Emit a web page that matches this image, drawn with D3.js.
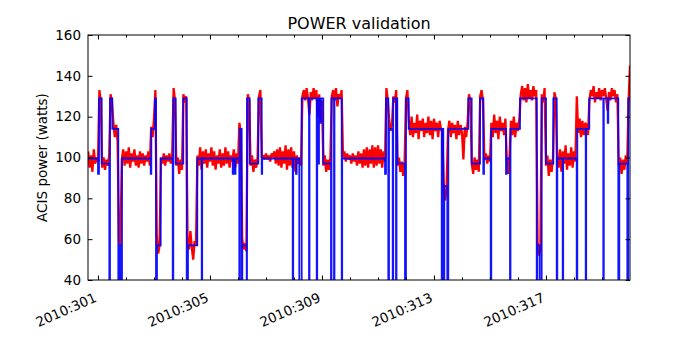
<!DOCTYPE html>
<html>
<head>
<meta charset="utf-8">
<script src="https://cdn.jsdelivr.net/npm/d3@7/dist/d3.min.js"></script>
<style>
  body { margin: 0; background: #fff; }
  svg { font-family: 'DejaVu Sans', sans-serif; }
</style>
</head>
<body>
<div id="chart"></div>
<script>
const TITLE = 'POWER validation';
const Y_LABEL = 'ACIS power (watts)';
const YEAR = 2010;
const X_DOMAIN = [300.643, 320.0];
const Y_DOMAIN = [40, 160];
const MAJOR_DAYS = [301, 305, 309, 313, 317];
const MINOR_DAYS = [301, 302, 303, 304, 305, 306, 307, 308, 309, 310, 311, 312, 313, 314, 315, 316, 317, 318, 319];
const Y_TICKS = [40, 60, 80, 100, 120, 140, 160];

// model power (blue), step changes: [day of year, watts]
const modelSteps = [
  [300.643, 99.5], [301.000, 92], [301.036, 129], [301.132, 97], [301.404, 0], [301.429, 129],
  [301.511, 114], [301.725, 0], [301.750, 57], [301.786, 0], [301.821, 57], [301.846, 0],
  [301.857, 99.5], [302.882, 92], [302.904, 114], [303.036, 129], [303.071, 0], [303.107, 57],
  [303.239, 99.5], [303.668, 0], [303.689, 129], [303.775, 97], [304.046, 129], [304.168, 0],
  [304.214, 57], [304.546, 99.5], [304.704, 0], [304.721, 99.5], [305.811, 92], [305.829, 99.5],
  [305.893, 92], [305.911, 99.5], [306.046, 0], [306.064, 114], [306.132, 0], [306.154, 57],
  [306.311, 0], [306.321, 129], [306.418, 97], [306.725, 129], [306.846, 92], [306.864, 99.5],
  [307.954, 0], [307.971, 99.5], [308.071, 92], [308.096, 99.5], [308.189, 0], [308.275, 129],
  [308.536, 0], [308.554, 129], [308.811, 0], [308.829, 129], [308.868, 97], [308.893, 129],
  [308.946, 117], [308.964, 129], [309.046, 97], [309.321, 0], [309.339, 129], [309.429, 0],
  [309.446, 129], [309.704, 0], [309.721, 99.5], [311.250, 92], [311.286, 129], [311.368, 0],
  [311.393, 114], [311.525, 0], [311.543, 129], [311.643, 0], [311.661, 129], [311.689, 97],
  [311.964, 0], [312.000, 129], [312.096, 114], [313.275, 0], [313.296, 114], [313.332, 0],
  [313.368, 86], [313.475, 0], [313.511, 114], [314.225, 129], [314.346, 97], [314.643, 129],
  [314.761, 92], [314.786, 99.5], [315.025, 0], [315.046, 114], [315.571, 92], [315.596, 99.5],
  [315.714, 0], [315.732, 114], [316.071, 129], [316.668, 0], [316.689, 57], [316.775, 0],
  [316.846, 129], [317.000, 97], [317.261, 129], [317.382, 0], [317.404, 99.5], [317.596, 0],
  [317.614, 99.5], [318.096, 0], [318.118, 114], [318.418, 0], [318.436, 114], [318.546, 129],
  [319.046, 0], [319.064, 129], [319.204, 117], [319.225, 129], [319.582, 0], [319.618, 97],
  [319.904, 0], [319.939, 129], [320.000, 129]
];

// telemetry (red), runs of samples: [start day, [watts ...]] one every TELEM_STEP days
const TELEM_STEP = 0.05;
const telemetry = [
  [300.65, [103, 95, 101, 93, 104, 97, 100, 98]],
  [301.05, [133, 128, 95, 100, 94, 99, 96, 101, 131, 127, 117, 110, 116, 108, 61, 57]],
  [301.85, [99, 104, 96, 103, 97, 105, 95, 102, 98, 104, 96, 101, 95, 103, 97, 102, 96, 101, 98, 103, 96]],
  [302.90, [115, 110, 119, 133, 62, 53, 57]],
  [303.25, [100, 97, 102, 96, 101, 98, 102, 97, 101, 134, 128, 96, 100, 92, 99, 94, 131, 127, 130]],
  [304.20, [58, 55, 64, 56, 50, 59, 57]],
  [304.55, [101, 96, 105, 94, 103, 97, 104, 95, 102, 98, 105, 96, 103, 94, 101, 97, 104, 95, 102, 96,
            105, 97, 103, 95, 101, 98, 104, 95, 102, 97]],
  [306.05, [117, 112, 60, 55, 58, 54, 131, 128, 96, 101, 93, 99, 95, 100, 130, 133]],
  [306.85, [100, 101, 99, 102, 99, 101, 98, 102, 100, 103, 97, 104, 96, 105, 95, 103, 97, 106, 94, 104,
            96, 105, 95, 103, 93, 101, 97, 100, 96]],
  [308.30, [130, 133, 128, 134, 129, 121, 132, 128, 134, 129, 133, 120, 131, 118, 128]],
  [309.05, [96, 101, 93, 99, 94, 100, 130, 133, 128, 134, 125, 131, 129, 133]],
  [309.75, [100, 103, 98, 102, 99, 101, 97, 102, 98, 101, 96, 103, 97, 102, 95, 104, 96, 105, 95, 104,
            97, 106, 95, 105, 96, 106, 97, 104, 95, 103, 98]],
  [311.30, [134, 128, 118, 113, 116, 130, 127, 133, 96, 100, 93, 98, 91, 97, 129, 133]],
  [312.10, [118, 111, 120, 110, 117, 112, 121, 109, 118, 113, 119, 110, 117, 112, 120, 111, 118, 109, 119, 113,
            117, 110, 118, 114]],
  [313.30, [112, 87, 79, 85, 113]],
  [313.55, [118, 110, 117, 112, 116, 109, 118, 111, 116, 112, 99, 115, 110, 117, 131, 127, 97, 92, 100, 94,
            99, 93, 130, 133, 128, 99, 102, 97, 101, 98]],
  [315.05, [117, 110, 121, 112, 118, 109, 120, 113, 117, 111, 119, 99, 92, 101, 118, 111, 120, 110, 117, 113, 119]],
  [316.10, [131, 135, 128, 134, 127, 136, 129, 133, 128, 135, 130, 133, 58, 52, 56, 131, 127, 134]],
  [317.00, [96, 101, 91, 99, 93, 100, 132, 129]],
  [317.40, [100, 95, 104, 93, 103, 97, 106, 94, 102, 96, 105, 95, 103, 98]],
  [318.10, [130, 112, 119, 110, 118, 111, 117, 116, 111]],
  [318.55, [128, 133, 130, 135, 127, 132, 129, 134, 128, 133, 130, 134, 129, 123, 132, 128, 134, 130, 133, 127, 131]],
  [319.60, [96, 100, 92, 99, 94, 101, 97, 128, 145]]
];

const WIDTH = 700, HEIGHT = 350;
const margin = { top: 35, right: 70, bottom: 70, left: 88 };
const w = WIDTH - margin.left - margin.right;
const h = HEIGHT - margin.top - margin.bottom;

const svg = d3.select('#chart').append('svg')
  .attr('width', WIDTH)
  .attr('height', HEIGHT);

const g = svg.append('g')
  .attr('transform', `translate(${margin.left},${margin.top})`);

const x = d3.scaleLinear().domain(X_DOMAIN).range([0, w]);
const y = d3.scaleLinear().domain(Y_DOMAIN).range([h, 0]);

g.append('clipPath').attr('id', 'plot-clip')
  .append('rect').attr('width', w).attr('height', h);

// flatten telemetry runs
let telemPoints = [];
for (let [start, vals] of telemetry) {
  vals.forEach((v, i) => telemPoints.push([start + i * TELEM_STEP, v]));
}

const lines = g.append('g').attr('clip-path', 'url(#plot-clip)');

lines.append('path')
  .datum(telemPoints)
  .attr('d', d3.line().x(d => x(d[0])).y(d => y(d[1])))
  .attr('fill', 'none')
  .attr('stroke', '#ff0000')
  .attr('stroke-width', 2.3)
  .attr('stroke-linejoin', 'bevel');

lines.append('path')
  .datum(modelSteps)
  .attr('d', d3.line().x(d => x(d[0])).y(d => y(d[1])).curve(d3.curveStepAfter))
  .attr('fill', 'none')
  .attr('stroke', '#0000ff')
  .attr('stroke-opacity', 0.92)
  .attr('stroke-width', 1.8);

// axes, ticks point inward
let styleAxis = sel => {
  sel.select('.domain').remove();
  sel.selectAll('line').attr('stroke', '#000');
  sel.selectAll('text').attr('font-size', 13.5).attr('fill', '#000').attr('font-family', 'DejaVu Sans');
};

g.append('g')
  .attr('transform', `translate(0,${h})`)
  .call(d3.axisBottom(x).tickValues(MINOR_DAYS).tickSizeInner(-2.5).tickSizeOuter(0).tickFormat(''))
  .call(styleAxis);
g.append('g')
  .call(d3.axisTop(x).tickValues(MINOR_DAYS).tickSizeInner(-2.5).tickSizeOuter(0).tickFormat(''))
  .call(styleAxis);
g.append('g')
  .call(d3.axisTop(x).tickValues(MAJOR_DAYS).tickSizeInner(-4.5).tickSizeOuter(0).tickFormat(''))
  .call(styleAxis);

let xAxis = g.append('g')
  .attr('transform', `translate(0,${h})`)
  .call(d3.axisBottom(x).tickValues(MAJOR_DAYS).tickSizeInner(-4.5).tickSizeOuter(0)
    .tickFormat(d => `${YEAR}:${d}`))
  .call(styleAxis);
xAxis.selectAll('text')
  .attr('y', 0)
  .attr('dy', 0)
  .attr('text-anchor', 'end')
  .attr('transform', 'translate(-1,21) rotate(-24)');

g.append('g')
  .call(d3.axisLeft(y).tickValues(Y_TICKS).tickSizeInner(-4.5).tickSizeOuter(0).tickPadding(7))
  .call(styleAxis);
g.append('g')
  .attr('transform', `translate(${w},0)`)
  .call(d3.axisRight(y).tickValues(Y_TICKS).tickSizeInner(-4.5).tickSizeOuter(0).tickFormat(''))
  .call(styleAxis);

// frame
g.append('rect')
  .attr('width', w)
  .attr('height', h)
  .attr('fill', 'none')
  .attr('stroke', '#000')
  .attr('stroke-width', 1);

svg.append('text')
  .text(TITLE)
  .attr('x', margin.left + w / 2)
  .attr('y', 29)
  .attr('text-anchor', 'middle')
  .attr('font-size', 16);

svg.append('text')
  .text(Y_LABEL)
  .attr('transform', `translate(47,${margin.top + h / 2}) rotate(-90)`)
  .attr('text-anchor', 'middle')
  .attr('font-size', 13.5);
</script>
</body>
</html>
